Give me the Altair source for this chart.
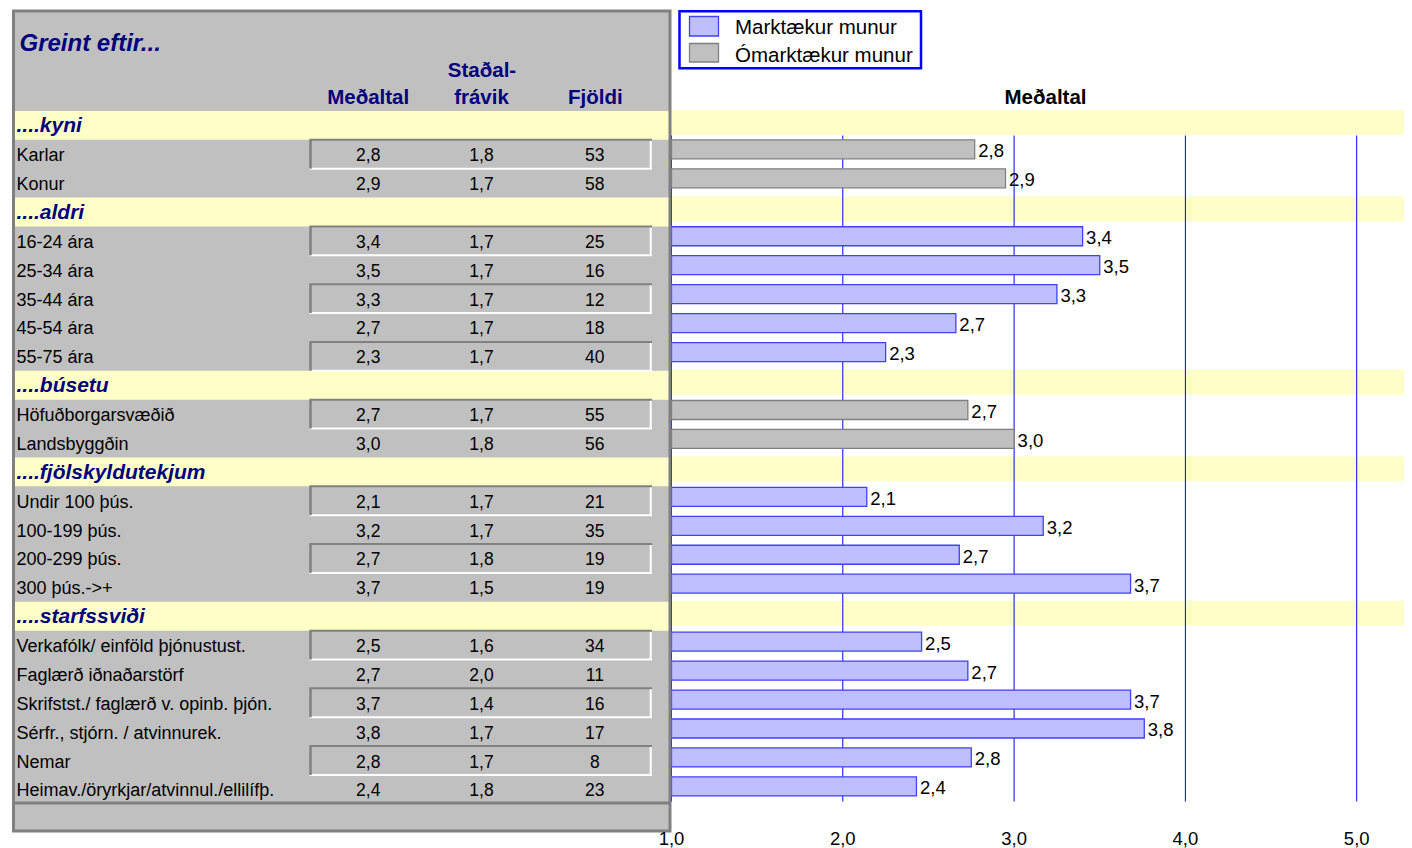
import altair as alt
import pandas as pd

# ---------------- data ----------------
categories = ["....kyni", "....aldri", "....búsetu", "....fjölskyldutekjum", "....starfssviði"]
significant = [False, True, False, True, True]

labels = [
    "Karlar", "Konur",
    "16-24 ára", "25-34 ára", "35-44 ára", "45-54 ára", "55-75 ára",
    "Höfuðborgarsvæðið", "Landsbyggðin",
    "Undir 100 þús.", "100-199 þús.", "200-299 þús.", "300 þús.->+",
    "Verkafólk/ einföld þjónustust.", "Faglærð iðnaðarstörf",
    "Skrifstst./ faglærð v. opinb. þjón.", "Sérfr., stjórn. / atvinnurek.",
    "Nemar", "Heimav./öryrkjar/atvinnul./ellilífþ.",
]
group_of = [0, 0, 1, 1, 1, 1, 1, 2, 2, 3, 3, 3, 3, 4, 4, 4, 4, 4, 4]
mean_shown = [2.8, 2.9, 3.4, 3.5, 3.3, 2.7, 2.3, 2.7, 3.0, 2.1, 3.2, 2.7, 3.7, 2.5, 2.7, 3.7, 3.8, 2.8, 2.4]
sd_shown = [1.8, 1.7, 1.7, 1.7, 1.7, 1.7, 1.7, 1.7, 1.8, 1.7, 1.7, 1.8, 1.5, 1.6, 2.0, 1.4, 1.7, 1.7, 1.8]
counts = [53, 58, 25, 16, 12, 18, 40, 55, 56, 21, 35, 19, 19, 34, 11, 16, 17, 8, 23]
bar_means = [2.77, 2.95, 3.40, 3.50, 3.25, 2.66, 2.25, 2.73, 3.00, 2.14, 3.17, 2.68, 3.68,
             2.46, 2.73, 3.68, 3.76, 2.75, 2.43]
ticks = [1.0, 2.0, 3.0, 4.0, 5.0]
legend_labels = ["Marktækur munur", "Ómarktækur munur"]
col_titles = ["Meðaltal", "Staðal-", "frávik", "Fjöldi"]

# ---------------- layout constants ----------------
OFF = 8
def px(v):
    return v - OFF

W, H = 1396, 840
ROWH = 28.87
ROW0 = px(125.4)
FONT = "Liberation Sans"
NAVY = "#000080"
GRAY = "#C0C0C0"
DARK = "#808080"
YEL = "#FFFFC8"
BLUE = "#0000FF"
SIG_FILL = "#BFBFFF"
SIG_STROKE = "#4040FF"

def comma(v):
    return f"{v:.1f}".replace(".", ",")

# ---------------- tables ----------------
head_rows, data_rows = [], []
r = 0
for g, cat in enumerate(categories):
    head_rows.append({"row": r, "label": cat, "y0": r - 0.5, "y1": r + 0.5,
                      "c0": r - 0.5 - 1 / ROWH, "c1": r + 0.5 - 5 / ROWH})
    r += 1
    k = 0
    for i, lab in enumerate(labels):
        if group_of[i] != g:
            continue
        off = (-4.9 + (1.9 / 22) * (r - 1)) / ROWH
        data_rows.append({
            "row": r, "label": lab,
            "mean": comma(mean_shown[i]), "sd": comma(sd_shown[i]), "n": str(counts[i]),
            "bar": bar_means[i], "base": 1.0, "barlab": comma(mean_shown[i]),
            "sig": legend_labels[0] if significant[g] else legend_labels[1],
            "b0": r + off - 9.5 / ROWH, "b1": r + off + 9.5 / ROWH, "bc": r + off,
            "top": r - 0.5, "bot": r + 0.5, "boxed": k % 2 == 0,
        })
        r += 1
        k += 1

heads = pd.DataFrame(head_rows)
rows = pd.DataFrame(data_rows)
boxed = rows[rows["boxed"]].copy()
tick_df = pd.DataFrame({"tick": ticks, "tlab": [comma(t) for t in ticks]})
one = pd.DataFrame({"a": [0]})

yscale = alt.Scale(domain=[0, 23], range=[ROW0, ROW0 + 23 * ROWH], zero=False, nice=False)
xscale = alt.Scale(domain=[1, 5], range=[px(671.5), px(1356.7)], zero=False, nice=False)
color_scale = alt.Scale(domain=legend_labels, range=[SIG_FILL, GRAY])
stroke_scale = alt.Scale(domain=legend_labels, range=[SIG_STROKE, DARK])

def Y(f):
    return alt.Y(f"{f}:Q", scale=yscale, axis=None)

def X(f):
    return alt.X(f"{f}:Q", scale=xscale, axis=None)

def txt(text, x, y, size, color="black", weight="normal", style="normal", align="left"):
    return alt.Chart(one).mark_text(
        text=text, font=FONT, fontSize=size, color=color, fontWeight=weight,
        fontStyle=style, align=align, baseline="alphabetic"
    ).encode(x=alt.value(px(x)), y=alt.value(px(y)))

layers = []

# table background
layers.append(alt.Chart(one).mark_rect(fill=GRAY).encode(
    x=alt.value(px(13)), x2=alt.value(px(671)), y=alt.value(px(10)), y2=alt.value(px(832))))

# yellow bands (table side and chart side)
layers.append(alt.Chart(heads).mark_rect(fill=YEL).encode(
    x=alt.value(px(13)), x2=alt.value(px(671.5)), y=Y("y0"), y2="y1"))
layers.append(alt.Chart(heads).mark_rect(fill=YEL).encode(
    x=alt.value(px(671.5)), x2=alt.value(W), y=Y("c0"), y2="c1"))

# grid lines
layers.append(alt.Chart(tick_df).mark_rule(color=BLUE, strokeWidth=1).encode(
    x=X("tick"), y=alt.value(px(135.5)), y2=alt.value(px(801.5))))

# bars
layers.append(alt.Chart(rows).mark_rect(strokeWidth=1.3).encode(
    x=X("base"), x2="bar", y=Y("b0"), y2="b1",
    fill=alt.Fill("sig:N", scale=color_scale, legend=None),
    stroke=alt.Stroke("sig:N", scale=stroke_scale, legend=None)))

# bar value labels
layers.append(alt.Chart(rows).mark_text(
    font=FONT, fontSize=18.5, align="left", baseline="middle", dx=3.5, dy=2, color="black"
).encode(x=X("bar"), y=Y("bc"), text="barlab:N"))

# boxed cells (inset look)
layers.append(alt.Chart(boxed).mark_rule(color="white", strokeWidth=2).encode(
    x=alt.value(px(309.5)), x2=alt.value(px(652)), y=Y("bot")))
layers.append(alt.Chart(boxed).mark_rule(color="white", strokeWidth=2).encode(
    x=alt.value(px(650.7)), y=Y("top"), y2="bot"))
layers.append(alt.Chart(boxed).mark_rule(color=DARK, strokeWidth=2).encode(
    x=alt.value(px(309.5)), x2=alt.value(px(652)), y=Y("top")))
layers.append(alt.Chart(boxed).mark_rule(color=DARK, strokeWidth=2.5).encode(
    x=alt.value(px(310.5)), y=Y("top"), y2="bot"))

# row labels and category labels
layers.append(alt.Chart(rows).mark_text(
    font=FONT, fontSize=18, align="left", baseline="middle", dy=2, color="black"
).encode(x=alt.value(px(16.5)), y=Y("row"), text="label:N"))
layers.append(alt.Chart(heads).mark_text(
    font=FONT, fontSize=21, fontWeight="bold", fontStyle="italic", align="left",
    baseline="middle", dy=1, color=NAVY
).encode(x=alt.value(px(16.5)), y=Y("row"), text="label:N"))

# numbers
for field, cx in [("mean", 368.2), ("sd", 481.5), ("n", 594.8)]:
    layers.append(alt.Chart(rows).mark_text(
        font=FONT, fontSize=17.5, align="center", baseline="middle", dy=2, color="black"
    ).encode(x=alt.value(px(cx)), y=Y("row"), text=f"{field}:N"))

# table border and bottom strip line
layers.append(alt.Chart(one).mark_rect(fill=None, stroke=DARK, strokeWidth=3).encode(
    x=alt.value(px(13.5)), x2=alt.value(px(670)), y=alt.value(px(11)), y2=alt.value(px(831))))
layers.append(alt.Chart(one).mark_rule(color=DARK, strokeWidth=3).encode(
    x=alt.value(px(13)), x2=alt.value(px(671)), y=alt.value(px(803))))

# header texts
layers.append(txt("Greint eftir...", 19.5, 50.5, 24, NAVY, "bold", "italic"))
layers.append(txt(col_titles[0], 368.2, 104, 20.5, NAVY, "bold", align="center"))
layers.append(txt(col_titles[1], 482, 77.3, 20.5, NAVY, "bold", align="center"))
layers.append(txt(col_titles[2], 481.5, 104, 20.5, NAVY, "bold", align="center"))
layers.append(txt(col_titles[3], 595.3, 104, 20.5, NAVY, "bold", align="center"))
layers.append(txt("Meðaltal", 1045.5, 104, 20.5, "black", "bold", align="center"))

# legend
layers.append(alt.Chart(one).mark_rect(fill="white", stroke=BLUE, strokeWidth=2.5).encode(
    x=alt.value(px(679.5)), x2=alt.value(px(921)), y=alt.value(px(11.2)), y2=alt.value(px(68.2))))
layers.append(alt.Chart(one).mark_rect(fill=SIG_FILL, stroke=SIG_STROKE, strokeWidth=1.3).encode(
    x=alt.value(px(689.5)), x2=alt.value(px(718.5)), y=alt.value(px(16.5)), y2=alt.value(px(36))))
layers.append(alt.Chart(one).mark_rect(fill=GRAY, stroke=DARK, strokeWidth=1.3).encode(
    x=alt.value(px(689.5)), x2=alt.value(px(718.5)), y=alt.value(px(43.5)), y2=alt.value(px(62))))
layers.append(txt(legend_labels[0], 735, 34.3, 20.5))
layers.append(txt(legend_labels[1], 735, 61.7, 20.5))

# x tick labels
layers.append(alt.Chart(tick_df).mark_text(
    font=FONT, fontSize=18.5, align="center", baseline="alphabetic", color="black"
).encode(x=X("tick"), y=alt.value(px(844.5)), text="tlab:N"))

chart = alt.layer(*layers).properties(
    width=W, height=H, padding=0, background="white",
    autosize=alt.AutoSizeParams(type="none"),
).configure_view(stroke=None)

chart.save("out.html", embed_options={"renderer": "svg", "actions": False})
